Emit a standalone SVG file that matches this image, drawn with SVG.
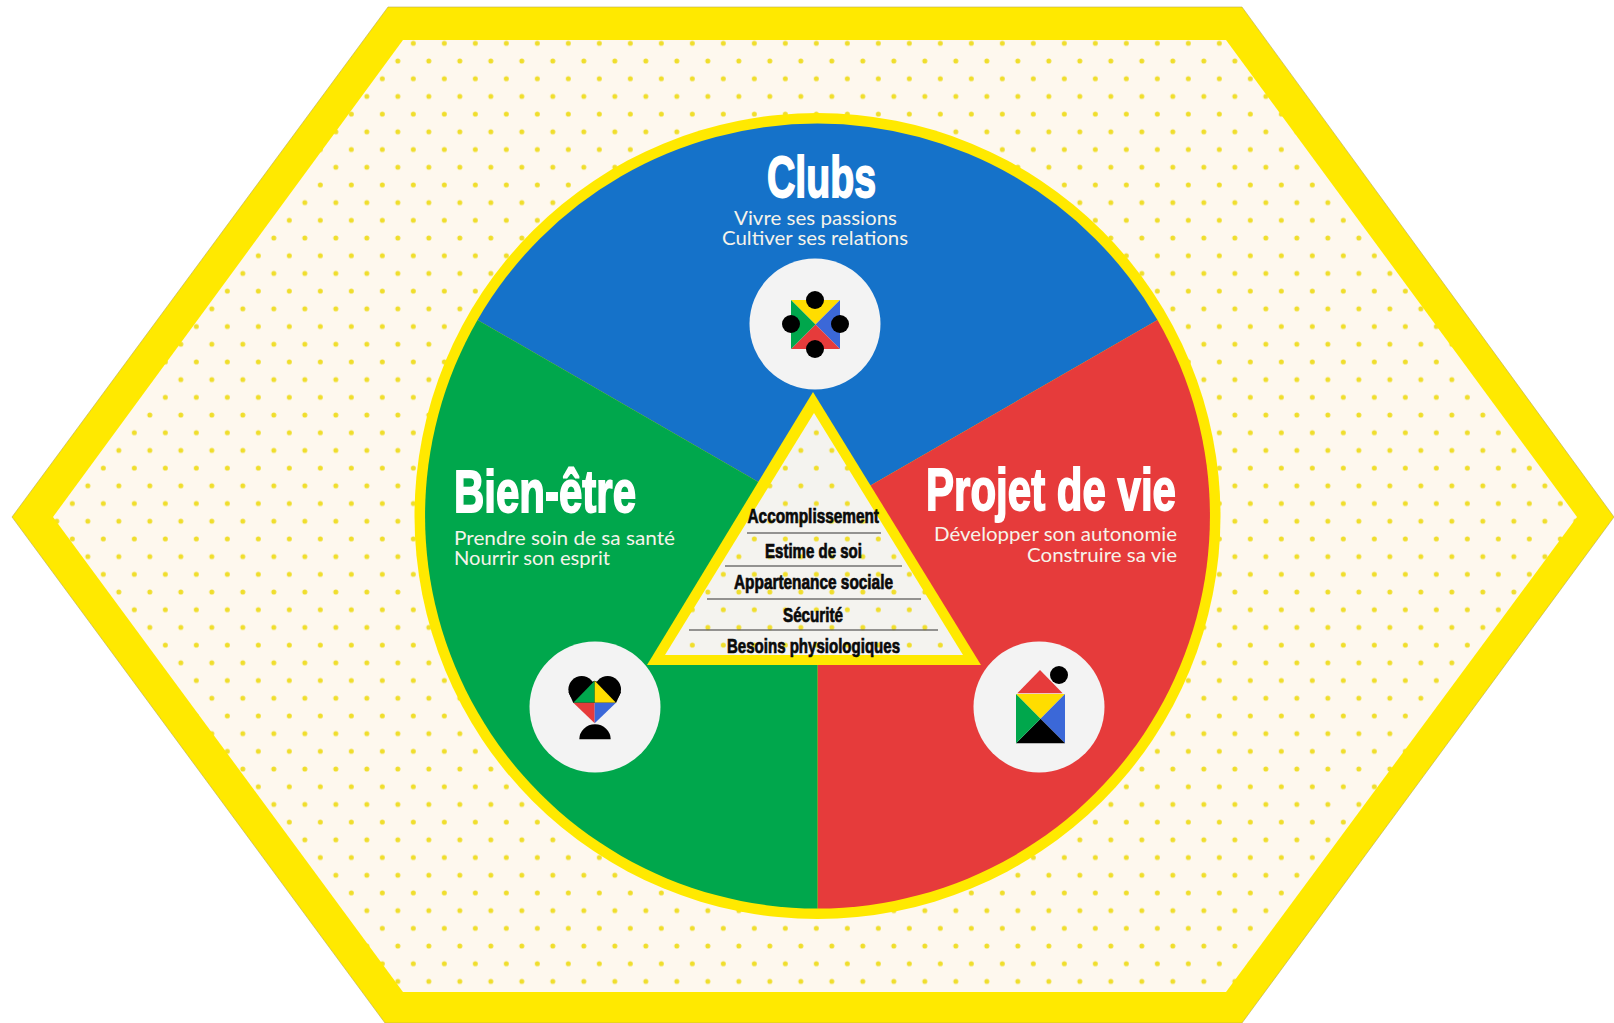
<svg xmlns="http://www.w3.org/2000/svg" width="1614" height="1023" viewBox="0 0 1614 1023">
<style>
.title{font-family:"Liberation Sans Narrow","Liberation Sans",sans-serif;font-weight:700;fill:#fff;stroke:#fff;stroke-width:1.8}
.sub{font-family:"Lato","Noto Sans",sans-serif;font-size:19px;fill:#f6f3ea}
.level{font-family:"Liberation Sans Narrow","Liberation Sans",sans-serif;font-weight:700;font-size:19.5px;fill:#0a0a0a;stroke:#0a0a0a;stroke-width:.7;text-anchor:start}
.rule{stroke:#333;stroke-width:1.2}
.disc{fill:#f3f3f3}
.k{fill:#000}.y{fill:#ffdd00}.g{fill:#00a74c}.b{fill:#3b68d8}.r{fill:#e63b3b}
</style>
<defs>
<pattern id="dots" patternUnits="userSpaceOnUse" x="397.8" y="43.3" width="31" height="35.4">
<rect width="31" height="35.4" fill="#fef8ee"/>
<circle cx="15.5" cy="0" r="2.5" fill="#f0de2c"/><circle cx="15.5" cy="35.4" r="2.5" fill="#f0de2c"/>
<circle cx="0" cy="17.7" r="2.5" fill="#f0de2c"/><circle cx="31" cy="17.7" r="2.5" fill="#f0de2c"/>
</pattern>
<pattern id="dots2" patternUnits="userSpaceOnUse" x="397.8" y="43.3" width="31" height="35.4">
<rect width="31" height="35.4" fill="#f4f3ef"/>
<circle cx="15.5" cy="0" r="2.5" fill="#f0de2c"/><circle cx="15.5" cy="35.4" r="2.5" fill="#f0de2c"/>
<circle cx="0" cy="17.7" r="2.5" fill="#f0de2c"/><circle cx="31" cy="17.7" r="2.5" fill="#f0de2c"/>
</pattern>
</defs>
<rect width="1614" height="1023" fill="#fff"/>
<g id="hexagon">
<polygon points="388,7 1242,7 1614,517 1242,1023 385,1023 12,517" fill="#ffe900" stroke="#b9ab50" stroke-width=".6"/>
<polygon points="403,40 1226,40 1577,517 1226,992 403,992 53,517" fill="url(#dots)"/>
</g>
<g id="wheel">
<circle cx="817.5" cy="516" r="403" fill="#ffe900"/>
<path d="M817.5,516L477.5,320A392.5,392.5 0 0 1 1157.5,320Z" fill="#1572c9"/>
<path d="M817.5,516L1157.5,320A392.5,392.5 0 0 1 817.5,908.5Z" fill="#e63b3b"/>
<path d="M817.5,516L817.5,908.5A392.5,392.5 0 0 1 477.5,320Z" fill="#00a74c"/>
</g>
<g id="clubs">
<text class="title" x="767" y="197" font-size="58" textLength="109" lengthAdjust="spacingAndGlyphs">Clubs</text>
<text class="sub" x="734" y="225" textLength="163" lengthAdjust="spacingAndGlyphs">Vivre ses passions</text>
<text class="sub" x="722" y="245" textLength="186" lengthAdjust="spacingAndGlyphs">Cultiver ses relations</text>
<circle class="disc" cx="815" cy="324" r="65.5"/>
<polygon class="y" points="791,300 840,300 815.5,324.5"/>
<polygon class="b" points="840,300 840,349 815.5,324.5"/>
<polygon class="r" points="840,349 791,349 815.5,324.5"/>
<polygon class="g" points="791,349 791,300 815.5,324.5"/>
<circle class="k" cx="815" cy="300" r="9"/><circle class="k" cx="791" cy="324" r="9"/><circle class="k" cx="840" cy="324" r="9"/><circle class="k" cx="815" cy="349" r="9"/>
</g>
<g id="bien-etre">
<text class="title" x="454" y="511.5" font-size="60" textLength="182" lengthAdjust="spacingAndGlyphs">Bien-être</text>
<text class="sub" x="454" y="544.5" textLength="221" lengthAdjust="spacingAndGlyphs">Prendre soin de sa santé</text>
<text class="sub" x="454" y="565" textLength="156" lengthAdjust="spacingAndGlyphs">Nourrir son esprit</text>
<circle class="disc" cx="595" cy="707" r="65.5"/>
<circle class="k" cx="581.7" cy="689.3" r="13.3"/><circle class="k" cx="607.7" cy="689.3" r="13.3"/>
<polygon class="k" points="594.7,680.7 621,692 616,703 573.3,703 568.5,692"/>
<polygon class="g" points="594.7,680.7 594.7,702.7 573.3,702.7"/>
<polygon class="y" points="594.7,680.7 616,702.7 594.7,702.7"/>
<polygon class="r" points="573.3,702.7 594.7,702.7 594.7,723.3"/>
<polygon class="b" points="616,702.7 594.7,702.7 594.7,723.3"/>
<path class="k" d="M579.3,739.3A15.7,15 0 0 1 610.7,739.3Z"/>
</g>
<g id="projet-de-vie">
<text class="title" x="926" y="509.5" font-size="60" textLength="250" lengthAdjust="spacingAndGlyphs">Projet de vie</text>
<text class="sub" x="934" y="541" textLength="243" lengthAdjust="spacingAndGlyphs">Développer son autonomie</text>
<text class="sub" x="1027" y="562" textLength="150" lengthAdjust="spacingAndGlyphs">Construire sa vie</text>
<circle class="disc" cx="1039" cy="707" r="65.5"/>
<polygon class="r" points="1040,670 1017.3,693.3 1062.7,693.3"/>
<polygon class="y" points="1016,694 1065,694 1040.5,718.7"/>
<polygon class="b" points="1065,694 1065,743.3 1040.5,718.7"/>
<polygon class="k" points="1065,743.3 1016,743.3 1040.5,718.7"/>
<polygon class="g" points="1016,743.3 1016,694 1040.5,718.7"/>
<circle class="k" cx="1059" cy="675" r="9"/>
</g>
<g id="pyramid">
<polygon points="813,392 981,665 647,665" fill="#ffe900"/>
<polygon points="814,413 963,655 665,655" fill="url(#dots2)"/>
<line class="rule" x1="747" y1="533" x2="881" y2="533"/>
<line class="rule" x1="725" y1="566" x2="902" y2="566"/>
<line class="rule" x1="707" y1="599" x2="921" y2="599"/>
<line class="rule" x1="689" y1="630" x2="938" y2="630"/>
<text class="level" x="747.5" y="523" textLength="131.5" lengthAdjust="spacingAndGlyphs">Accomplissement</text>
<text class="level" x="765" y="557.5" textLength="97" lengthAdjust="spacingAndGlyphs">Estime de soi</text>
<text class="level" x="734" y="589" textLength="159" lengthAdjust="spacingAndGlyphs">Appartenance sociale</text>
<text class="level" x="783" y="621.5" textLength="60" lengthAdjust="spacingAndGlyphs">Sécurité</text>
<text class="level" x="727" y="653" textLength="173" lengthAdjust="spacingAndGlyphs">Besoins physiologiques</text>
</g>
</svg>
